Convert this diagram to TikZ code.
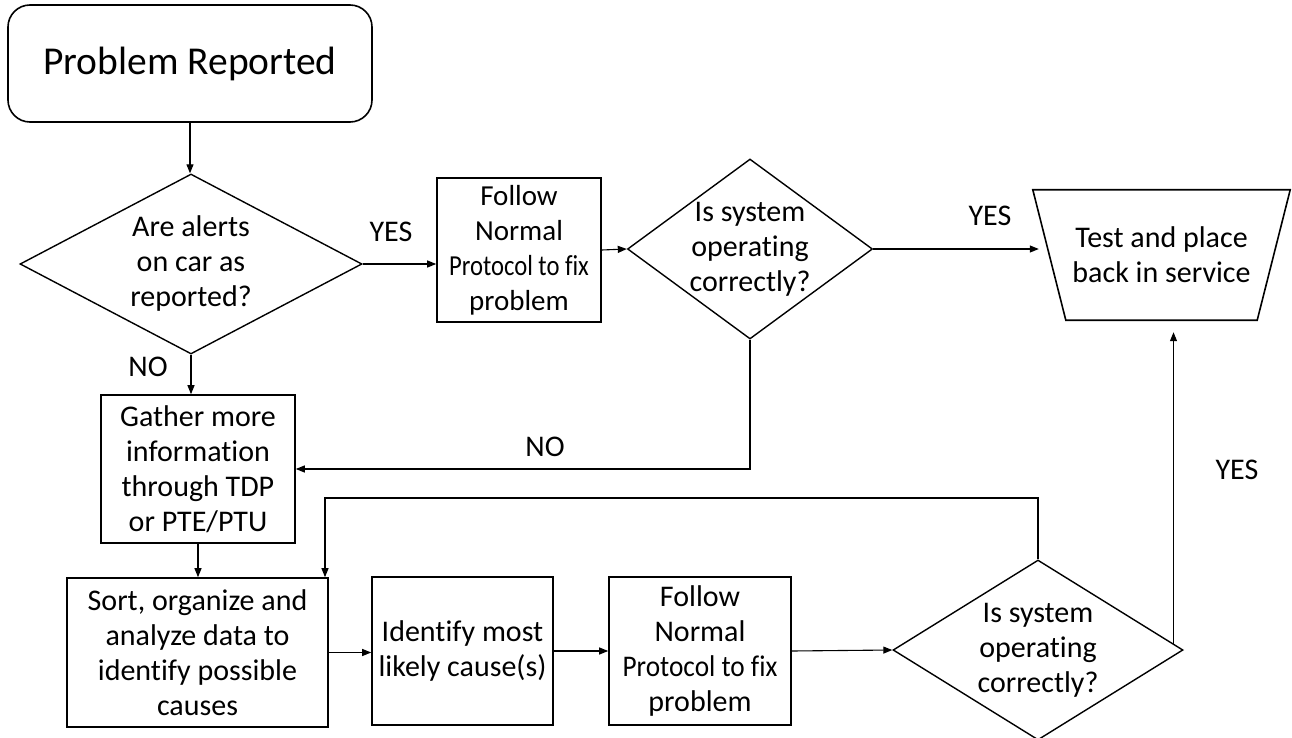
\documentclass[tikz,border=0pt]{standalone}
\usepackage{fontspec}
\usepackage{graphicx}
\setmainfont{Carlito}[Ligatures=NoCommon]
\usetikzlibrary{shapes.geometric,arrows.meta,calc}

% a line set slightly condensed so it fits its box
\newcommand{\tightline}[2]{\scalebox{#1}[1]{#2}}

\begin{document}
\begin{tikzpicture}[x=1pt,y=-1pt,
  txt/.style={font=\fontsize{30}{35}\selectfont, align=center},
  box/.style={draw, line width=1.6pt, rectangle, inner sep=0pt, txt},
  dia/.style={draw, line width=1.4pt, diamond, inner sep=0pt},
  arr/.style={line width=1.1pt, -{Triangle[length=9pt,width=7pt]}},
  lbl/.style={font=\fontsize{30}{34}\selectfont, inner sep=0pt}]
\useasboundingbox (0,0) rectangle (1292,738);

% start terminal
\node[draw, line width=1.6pt, rounded corners=22pt, minimum width=364pt, minimum height=117pt,
      font=\fontsize{39.5}{46}\selectfont] (start) at (190,63.5) {Problem Reported};

% decisions
\node[dia, minimum width=342pt, minimum height=180pt,
      label={[txt]center:Are alerts\\on car as\\reported?}] (d1) at (191,264) {};
\node[dia, minimum width=245pt, minimum height=180pt,
      label={[txt]center:Is system\\operating\\correctly?}] (d2) at (750,249) {};
\node[dia, minimum width=290pt, minimum height=180pt,
      label={[txt]center:Is system\\operating\\correctly?}] (d3) at (1038,650) {};

% process boxes
\node[box, minimum width=164pt, minimum height=144pt, font=\fontsize{29}{35}\selectfont] (fix1) at (519,250)
  {Follow\\Normal\\\tightline{0.85}{Protocol to fix}\\problem};
\node[box, minimum width=194pt, minimum height=148pt] (gather) at (198,469) {Gather more\\information\\through TDP\\or PTE/PTU};
\node[box, minimum width=261pt, minimum height=149pt] (sort) at (197.5,652.5) {Sort, organize and\\analyze data to\\identify possible\\causes};
\node[box, minimum width=181pt, minimum height=148pt] (ident) at (462.5,651) {Identify most\\likely cause(s)};
\node[box, minimum width=182pt, minimum height=148pt] (fix2) at (700,651)
  {Follow\\Normal\\\tightline{0.91}{Protocol to fix}\\problem};

% end: inverted trapezium, outlined from its bounding node
\node[inner sep=0pt, minimum width=257pt, minimum height=130pt, txt] (trap) at (1161.5,255) {Test and place\\back in service};
\draw[line width=1.6pt, line join=miter]
  (trap.north west) -- (trap.north east) -- ($(trap.south east)+(-33,0)$)
  -- ($(trap.south west)+(33,0)$) -- cycle;

% branch labels
\node[lbl] (yes1) at (391,232) {YES};
\node[lbl] (yes2) at (990,216) {YES};
\node[lbl] (no1) at (148,367) {NO};
\node[lbl] (no2) at (545,447) {NO};
\node[lbl] (yes3) at (1237,470) {YES};

% connectors
\draw[arr] (start.south) -- (start.south |- d1.north);
\draw[arr] (d1.east) -- (d1.east -| fix1.west);
\draw[arr] (fix1.east) -- (d2.west);
\draw[arr] (d2.east) -- ($(d2.east -| trap.west)+(6,0)$);
\draw[arr] (d1.south) -- (d1.south |- gather.north);
\draw[arr] (d2.south) |- (gather.east);
\draw[arr] (gather.south) -- (gather.south |- sort.north);
\draw[arr] (sort.east) -- (sort.east -| ident.west);
\draw[arr] (ident.east) -- (fix2.west);
\draw[arr] (fix2.east) -- (d3.west);
\coordinate (loopc) at (325,498);
\draw[arr] (d3.north) |- (loopc) -- (loopc |- sort.north);
\coordinate (d3ne) at ($(d3.east)!0.07!(d3.north)$);
\draw[arr] (d3ne) -- ($(d3ne |- trap.south)+(0,12)$);
\end{tikzpicture}
\end{document}
